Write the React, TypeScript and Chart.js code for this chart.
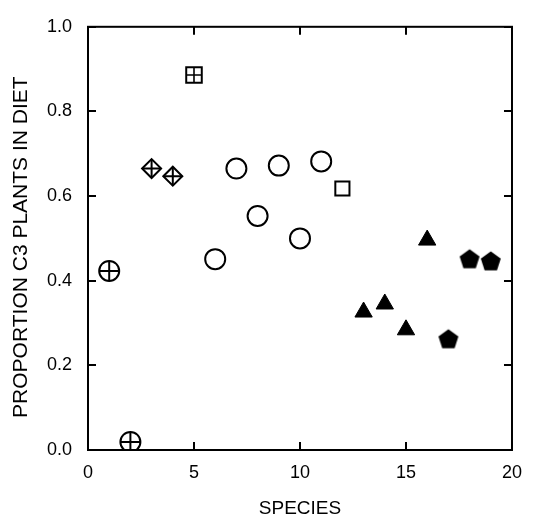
import React, { useEffect, useRef } from "react";
import { Chart, registerables } from "chart.js";

Chart.register(...registerables);

// Tick settings
const xTickStep = 5;
const yTickStep = 0.2;

// Data (species number vs proportion of C3 plants in diet), grouped by marker
const circlePlusSpecies = [1, 2];
const circlePlusValues = [0.423, 0.019];
const diamondPlusSpecies = [3, 4];
const diamondPlusValues = [0.665, 0.647];
const squarePlusSpecies = [5];
const squarePlusValues = [0.886];
const circleSpecies = [6, 7, 8, 9, 10, 11];
const circleValues = [0.451, 0.665, 0.553, 0.672, 0.5, 0.682];
const squareSpecies = [12];
const squareValues = [0.618];
const triangleSpecies = [13, 14, 15, 16];
const triangleValues = [0.326, 0.345, 0.284, 0.496];
const pentagonSpecies = [17, 18, 19];
const pentagonValues = [0.263, 0.452, 0.447];

const toPoints = (xs: number[], ys: number[]) => xs.map((x, i) => ({ x, y: ys[i] }));

const FONT = "'Liberation Sans', Arial, Helvetica, sans-serif";

function makePentagon(): HTMLCanvasElement {
  const c = document.createElement("canvas");
  const size = 22;
  c.width = size;
  c.height = size;
  const ctx = c.getContext("2d")!;
  const R = 10.5;
  const cx = size / 2;
  const cy = size / 2 + (R - 0.809 * R) / 2;
  ctx.beginPath();
  for (let k = 0; k < 5; k++) {
    const a = -Math.PI / 2 + (k * 2 * Math.PI) / 5;
    const px = cx + R * Math.cos(a);
    const py = cy + R * Math.sin(a);
    if (k === 0) ctx.moveTo(px, py);
    else ctx.lineTo(px, py);
  }
  ctx.closePath();
  ctx.fillStyle = "#000";
  ctx.fill();
  return c;
}

const framePlugin = {
  id: "frameTicks",
  afterDraw(chart: any) {
    const { ctx, chartArea } = chart;
    const { left, right, top, bottom } = chartArea;
    const xs = chart.scales.x;
    const ys = chart.scales.y;
    const tl = 8;
    ctx.save();
    ctx.strokeStyle = "#000";
    ctx.lineWidth = 2;
    ctx.beginPath();
    xs.ticks.forEach((t: any) => {
      const px = Math.round(xs.getPixelForValue(t.value));
      ctx.moveTo(px, bottom);
      ctx.lineTo(px, bottom - tl);
      ctx.moveTo(px, top);
      ctx.lineTo(px, top + tl);
    });
    ys.ticks.forEach((t: any) => {
      const py = Math.round(ys.getPixelForValue(t.value));
      ctx.moveTo(left, py);
      ctx.lineTo(left + tl, py);
      ctx.moveTo(right, py);
      ctx.lineTo(right - tl, py);
    });
    ctx.stroke();
    ctx.strokeRect(left, top, right - left, bottom - top);
    ctx.restore();
  },
};

export default function App() {
  const ref = useRef<HTMLCanvasElement | null>(null);

  useEffect(() => {
    if (!ref.current) return;
    const pentagon = makePentagon();
    const black = "#000";
    const white = "#fff";

    const chart = new Chart(ref.current, {
      type: "scatter",
      data: {
        datasets: [
          {
            data: toPoints(circlePlusSpecies, circlePlusValues),
            pointStyle: "circle",
            pointRadius: 10,
            borderColor: black,
            backgroundColor: white,
            borderWidth: 2,
            order: 2,
          },
          {
            data: toPoints(circlePlusSpecies, circlePlusValues),
            pointStyle: "cross",
            pointRadius: 10,
            borderColor: black,
            borderWidth: 2,
            order: 1,
          },
          {
            data: toPoints(diamondPlusSpecies, diamondPlusValues),
            pointStyle: "rectRot",
            pointRadius: 9.5,
            borderColor: black,
            backgroundColor: white,
            borderWidth: 2,
            order: 2,
          },
          {
            data: toPoints(diamondPlusSpecies, diamondPlusValues),
            pointStyle: "cross",
            pointRadius: 9.5,
            borderColor: black,
            borderWidth: 2,
            order: 1,
          },
          {
            data: toPoints(squarePlusSpecies, squarePlusValues),
            pointStyle: "rect",
            pointRadius: 11,
            borderColor: black,
            backgroundColor: white,
            borderWidth: 2,
            order: 2,
          },
          {
            data: toPoints(squarePlusSpecies, squarePlusValues),
            pointStyle: "cross",
            pointRadius: 7.8,
            borderColor: black,
            borderWidth: 1.6,
            order: 1,
          },
          {
            data: toPoints(circleSpecies, circleValues),
            pointStyle: "circle",
            pointRadius: 10,
            borderColor: black,
            backgroundColor: white,
            borderWidth: 2,
            order: 2,
          },
          {
            data: toPoints(squareSpecies, squareValues),
            pointStyle: "rect",
            pointRadius: 10,
            borderColor: black,
            backgroundColor: white,
            borderWidth: 2,
            order: 2,
          },
          {
            data: toPoints(triangleSpecies, triangleValues),
            pointStyle: "triangle",
            pointRadius: 10,
            borderColor: black,
            backgroundColor: black,
            borderWidth: 1,
            order: 2,
          },
          {
            data: toPoints(pentagonSpecies, pentagonValues),
            pointStyle: pentagon,
            pointRadius: 11,
            order: 2,
          },
        ],
      },
      options: {
        animation: false,
        responsive: false,
        devicePixelRatio: 1,
        layout: { padding: { left: 0, top: 20, right: 12, bottom: 0 } },
        plugins: {
          legend: { display: false },
          tooltip: { enabled: false },
        },
        scales: {
          x: {
            type: "linear",
            min: 0,
            max: 20,
            grid: { display: false, drawTicks: false },
            border: { display: false },
            ticks: {
              stepSize: xTickStep,
              color: black,
              padding: 12,
              font: { family: FONT, size: 18 },
            },
            title: {
              display: true,
              text: "SPECIES",
              color: black,
              font: { family: FONT, size: 19 },
              padding: { top: 0, bottom: -2 },
            },
            afterFit: (s: any) => {
              s.height = 68;
            },
          },
          y: {
            type: "linear",
            min: 0,
            max: 1,
            grid: { display: false, drawTicks: false },
            border: { display: false },
            ticks: {
              stepSize: yTickStep,
              color: black,
              padding: 16,
              font: { family: FONT, size: 18 },
              callback: (v: any) => Number(v).toFixed(1),
            },
            title: {
              display: true,
              text: "PROPORTION C3 PLANTS IN DIET   ",
              color: black,
              font: { family: FONT, size: 21 },
              padding: { top: 9, bottom: 0 },
            },
            afterFit: (s: any) => {
              s.width = 88;
            },
          },
        },
      },
      plugins: [framePlugin],
    });
    return () => chart.destroy();
  }, []);

  return (
    <div style={{ position: "absolute", left: 0, top: 0, width: 534, height: 518, background: "#fff" }}>
      <canvas ref={ref} width={534} height={518} style={{ display: "block" }} />
    </div>
  );
}
